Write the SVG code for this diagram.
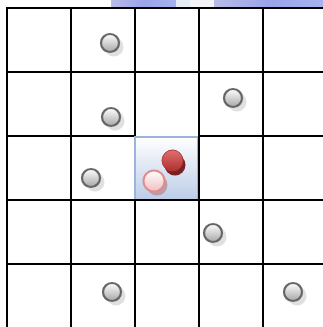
<svg xmlns="http://www.w3.org/2000/svg" width="323" height="327" viewBox="0 0 323 327">
<defs>
<linearGradient id="ballG" x1="0" y1="0" x2="0" y2="1"><stop offset="0" stop-color="#ffffff"/><stop offset="1" stop-color="#a8a8a8"/></linearGradient>
<linearGradient id="redG" x1="0" y1="0" x2="0" y2="1"><stop offset="0" stop-color="#e07070"/><stop offset="1" stop-color="#b03030"/></linearGradient>
<linearGradient id="pinkG" x1="0" y1="0" x2="0" y2="1"><stop offset="0" stop-color="#ffffff"/><stop offset="1" stop-color="#f0c0c0"/></linearGradient>
<linearGradient id="cellG" x1="0" y1="0" x2="0" y2="1"><stop offset="0" stop-color="#ffffff"/><stop offset="1" stop-color="#bccce8"/></linearGradient>
<linearGradient id="barG" x1="0" y1="0" x2="1" y2="0"><stop offset="0" stop-color="#b8bce8"/><stop offset="0.5" stop-color="#9aa4ea"/><stop offset="1" stop-color="#a6b2ee"/></linearGradient>
<g id="ball"><circle cx="4" cy="4" r="9.5" fill="#d8d8d8" opacity="0.8"/><circle cx="0" cy="0" r="9" fill="url(#ballG)" stroke="#666" stroke-width="2.2"/></g>
</defs>
<style>.grid{stroke:#000;stroke-width:2;fill:none}</style>
<rect width="323" height="327" fill="#fff"/>
<g id="topbars">
<rect x="111" y="0" width="65" height="7" fill="url(#barG)"/>
<rect x="176" y="0" width="14" height="7" fill="#e4ecf6"/>
<rect x="190" y="0" width="24" height="7" fill="#f4f4f8"/>
<rect x="214" y="0" width="109" height="7" fill="url(#barG)"/>
</g>
<g id="selected-cell"><rect x="135" y="137" width="63" height="63" fill="url(#cellG)" stroke="#9cb4dc" stroke-width="2"/></g>
<g id="grid" class="grid">
<path d="M7 7V327M71 7V327M135 7V136M135 201V327M199 7V327M263 7V327"/>
<path d="M6 8H323M6 72H323M6 136H134M199 136H323M6 200H323M6 264H323"/>
</g>
<g id="balls">
<use href="#ball" x="110" y="43"/>
<use href="#ball" x="111" y="117"/>
<use href="#ball" x="233" y="98"/>
<use href="#ball" x="91" y="178"/>
<use href="#ball" x="213" y="233"/>
<use href="#ball" x="112" y="292"/>
<use href="#ball" x="293" y="292"/>
</g>
<g id="red-ball"><circle cx="175" cy="165" r="10.5" fill="#7a2020"/><circle cx="172.5" cy="160.5" r="10.5" fill="url(#redG)" stroke="#b03838" stroke-width="1"/></g>
<g id="pink-ball"><circle cx="157" cy="185" r="10.5" fill="#b89098" opacity="0.8"/><circle cx="154" cy="181" r="10.5" fill="url(#pinkG)" stroke="#e08c8c" stroke-width="2"/></g>
</svg>
